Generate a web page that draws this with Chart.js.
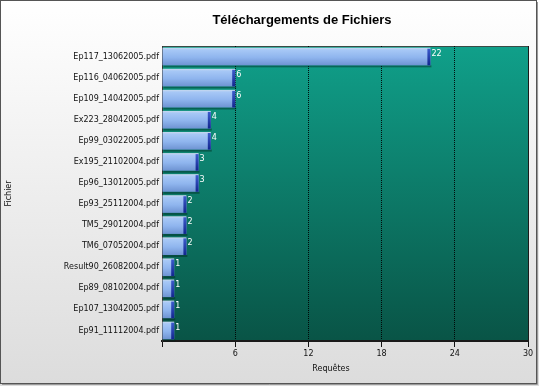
<!DOCTYPE html>
<html>
<head>
<meta charset="utf-8">
<script src="https://cdn.jsdelivr.net/npm/chart.js@4"></script>
<style>
  html, body { margin: 0; padding: 0; background: #ffffff; }
  #wrap { width: 539px; height: 386px; }
</style>
</head>
<body>
<div id="wrap"><canvas id="myChart" width="539" height="386"></canvas></div>
<script>
const files = [
    'Ep117_13062005.pdf', 'Ep116_04062005.pdf', 'Ep109_14042005.pdf', 'Ex223_28042005.pdf',
    'Ep99_03022005.pdf', 'Ex195_21102004.pdf', 'Ep96_13012005.pdf', 'Ep93_25112004.pdf',
    'TM5_29012004.pdf', 'TM6_07052004.pdf', 'Result90_26082004.pdf', 'Ep89_08102004.pdf',
    'Ep107_13042005.pdf', 'Ep91_11112004.pdf'
];
const requests = [22, 6, 6, 4, 4, 3, 3, 2, 2, 2, 1, 1, 1, 1];
const xTicks = [0, 6, 12, 18, 24, 30];
const chartTitle = 'Téléchargements de Fichiers';
const xTitle = 'Requêtes';

const fontName = "'DejaVu Sans', sans-serif";
const titleFont = "'Liberation Sans', Arial, sans-serif";

// outer frame + teal plot background
var backgroundPlugin = {
    id: 'backdrop',
    beforeDraw: function(chart) {
        const ctx = chart.ctx;
        const w = chart.width, h = chart.height;
        ctx.save();
        var g = ctx.createLinearGradient(0, 0, 0, h);
        g.addColorStop(0, '#ffffff');
        g.addColorStop(1, '#dcdcdc');
        ctx.fillStyle = g;
        ctx.fillRect(0, 0, w, h);
        ctx.strokeStyle = '#555555';
        ctx.lineWidth = 1;
        ctx.strokeRect(0.5, 0.5, w - 3, h - 3);
        ctx.strokeStyle = '#9a9a9a';
        ctx.beginPath();
        ctx.moveTo(w - 1.5, 2); ctx.lineTo(w - 1.5, h - 1.5); ctx.lineTo(2, h - 1.5);
        ctx.stroke();

        const a = chart.chartArea;
        var pg = ctx.createLinearGradient(0, a.top, 0, a.bottom);
        pg.addColorStop(0, '#10a08a');
        pg.addColorStop(1, '#095446');
        ctx.fillStyle = pg;
        ctx.fillRect(a.left, a.top, a.right - a.left, a.bottom - a.top);
        ctx.strokeStyle = '#3a4a46';
        ctx.beginPath();
        ctx.moveTo(a.left, a.top + 0.5); ctx.lineTo(a.right, a.top + 0.5);
        ctx.stroke();
        ctx.restore();
    },
    afterDraw: function(chart) {
        // title and x axis title sit off-centre in the original
        const ctx = chart.ctx;
        ctx.save();
        ctx.textAlign = 'center';
        ctx.textBaseline = 'middle';
        ctx.fillStyle = '#000000';
        ctx.font = 'bold 13px ' + titleFont;
        ctx.fillText(chartTitle, 302, 20);
        ctx.fillStyle = '#111111';
        ctx.font = '8px ' + fontName;
        ctx.fillText(xTitle, 331, 369);
        ctx.restore();
    }
};

// shaded 3D look for bars + value labels
var barLookPlugin = {
    id: 'barLook',
    afterDatasetsDraw: function(chart) {
        const ctx = chart.ctx;
        const meta = chart.getDatasetMeta(0);
        ctx.save();
        meta.data.forEach(function(bar, i) {
            const left = bar.base, right = bar.x;
            const top = bar.y - bar.height / 2, bottom = bar.y + bar.height / 2;
            // shadow
            ctx.fillStyle = 'rgba(0,40,30,0.45)';
            ctx.fillRect(left + 1, bottom, right - left, 2);
            var g = ctx.createLinearGradient(0, top, 0, bottom);
            g.addColorStop(0, '#c9d9ee');
            g.addColorStop(0.12, '#a7c8f6');
            g.addColorStop(0.55, '#8fb5ee');
            g.addColorStop(1, '#6e93d2');
            ctx.fillStyle = g;
            ctx.fillRect(left, top, right - left, bottom - top);
            // dark blue end cap
            var cg = ctx.createLinearGradient(0, top, 0, bottom);
            cg.addColorStop(0, '#3f5fd0');
            cg.addColorStop(1, '#12268e');
            ctx.fillStyle = cg;
            ctx.fillRect(right - 3, top + 1, 3, bottom - top - 1);
            // value text
            ctx.fillStyle = '#ffffff';
            ctx.font = '8px ' + fontName;
            ctx.textBaseline = 'middle';
            ctx.textAlign = 'left';
            ctx.fillText(requests[i], right + 1, bar.y - 3);
        });
        ctx.restore();
    }
};

function isEdge(c) {
    return c.tick && (c.tick.value === 0 || c.tick.value === 30);
}

const ctx = document.getElementById('myChart').getContext('2d');
var chart = new Chart(ctx, {
    type: 'bar',
    data: {
        labels: files,
        datasets: [{
            label: xTitle,
            data: requests,
            backgroundColor: 'rgba(0,0,0,0)',
            borderWidth: 0,
            barPercentage: 0.95,
            categoryPercentage: 0.88
        }]
    },
    plugins: [backgroundPlugin, barLookPlugin],
    options: {
        indexAxis: 'y',
        responsive: false,
        animation: false,
        devicePixelRatio: 1,
        layout: { padding: { left: 2, right: 11, top: 46, bottom: 0 } },
        plugins: {
            legend: { display: false },
            tooltip: { enabled: false },
            title: { display: false }
        },
        scales: {
            x: {
                min: 0,
                max: 30,
                afterBuildTicks: function(scale) {
                    scale.ticks = xTicks.map(function(v) { return { value: v }; });
                },
                afterFit: function(scale) { scale.height = 45; },
                grid: {
                    color: function(c) { return isEdge(c) ? '#1a1a1a' : 'rgba(0,0,0,0.9)'; },
                    tickBorderDash: [],
                    tickColor: '#111111',
                    tickLength: 6,
                    drawOnChartArea: true
                },
                border: {
                    display: true,
                    color: '#1a1a1a',
                    width: 2,
                    dash: function(c) { return isEdge(c) ? [] : [1, 1]; }
                },
                ticks: {
                    color: '#111111',
                    font: { family: fontName, size: 8 },
                    padding: 2,
                    maxRotation: 0,
                    callback: function(v) { return v === 0 ? '' : v; }
                },
                title: { display: false }
            },
            y: {
                afterFit: function(scale) { scale.width = 160; },
                grid: { display: false, drawTicks: false },
                border: { display: true, color: '#333333', width: 1 },
                ticks: {
                    color: '#111111',
                    font: { family: fontName, size: 8 },
                    padding: 3
                },
                title: {
                    display: true,
                    text: 'Fichier',
                    color: '#111111',
                    font: { family: fontName, size: 8 },
                    padding: { top: 2, bottom: 2 }
                }
            }
        }
    }
});
</script>
</body>
</html>
